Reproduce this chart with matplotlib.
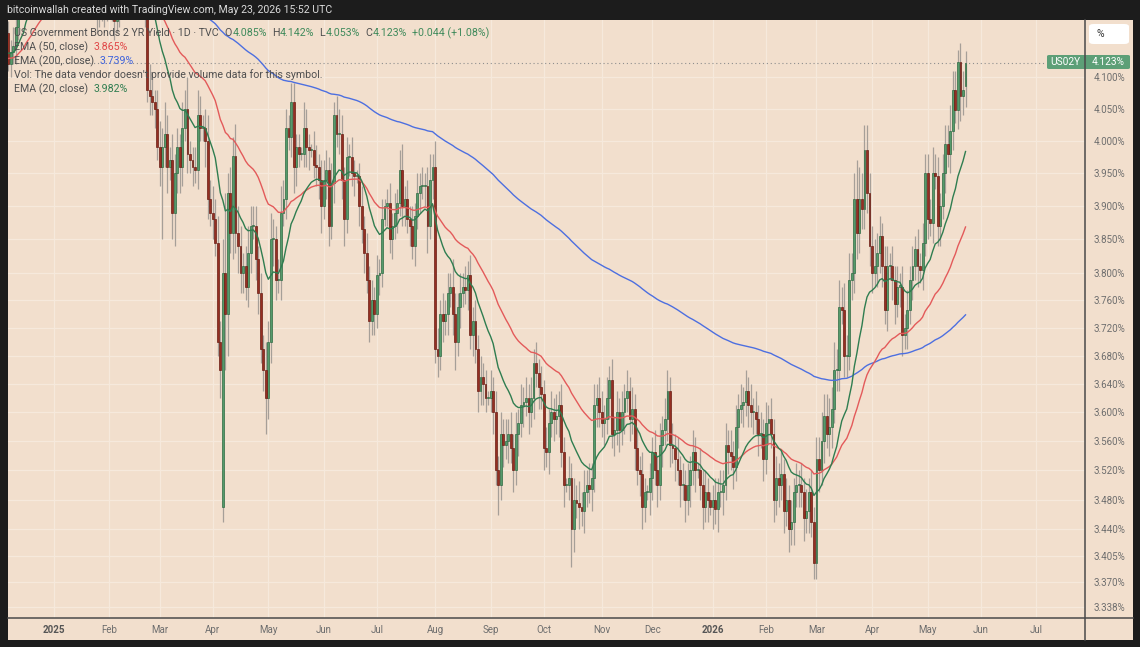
import matplotlib
matplotlib.use("Agg")
import matplotlib.pyplot as plt
from matplotlib.lines import Line2D
from matplotlib.patches import FancyBboxPatch, Rectangle
from matplotlib.ticker import FixedFormatter, FixedLocator, NullLocator
import numpy as np
import pandas as pd

plt.rcParams["font.family"] = ["Roboto", "DejaVu Sans"]

# ---- data: US02Y daily closes, business days from START
START = "2024-12-09"
FIRST_OPEN = 4.17

close_dec24 = [4.12, 4.14, 4.15, 4.18, 4.24, 4.25, 4.25, 4.35, 4.31, 4.31, 4.35, 4.34, 4.34, 4.33, 4.32, 4.24, 4.25]
close_jan25 = [4.25, 4.28, 4.28, 4.28, 4.30, 4.28, 4.28, 4.38, 4.40, 4.37, 4.27, 4.24, 4.28, 4.28, 4.29, 4.30, 4.30, 4.27, 4.20, 4.21, 4.22, 4.21, 4.22]
close_feb25 = [4.25, 4.22, 4.19, 4.21, 4.29, 4.28, 4.29, 4.36, 4.31, 4.26, 4.26, 4.29, 4.27, 4.27, 4.21, 4.08, 4.07, 4.06, 4.05, 3.99]
close_mar25 = [3.96, 3.99, 4.01, 3.96, 3.97, 3.89, 3.95, 3.99, 3.96, 4.02, 4.05, 3.98, 3.97, 3.96, 3.955, 4.04, 4.02, 4.02, 4.00, 3.91, 3.89]
close_apr25 = [3.88, 3.845, 3.70, 3.66, 3.80, 3.74, 3.92, 3.86, 3.976, 3.86, 3.84, 3.80, 3.81, 3.78, 3.83, 3.87, 3.87, 3.82, 3.77, 3.69, 3.66, 3.62]
close_may25 = [3.70, 3.85, 3.85, 3.79, 3.79, 3.89, 3.91, 4.02, 4.005, 4.06, 3.96, 3.99, 3.98, 3.98, 4.02, 3.99, 3.985, 3.985, 3.963, 3.96, 3.94, 3.90]
close_jun25 = [3.94, 3.955, 3.87, 3.935, 4.04, 4.01, 4.01, 3.94, 3.88, 3.975, 3.975, 3.95, 3.945, 3.945, 3.90, 3.865, 3.83, 3.79, 3.73, 3.76, 3.74]
close_jul25 = [3.797, 3.80, 3.88, 3.90, 3.905, 3.85, 3.87, 3.89, 3.905, 3.955, 3.90, 3.91, 3.88, 3.87, 3.84, 3.885, 3.92, 3.93, 3.93, 3.93, 3.87, 3.94, 3.96]
close_aug25 = [3.69, 3.68, 3.74, 3.73, 3.74, 3.77, 3.78, 3.74, 3.70, 3.75, 3.77, 3.78, 3.775, 3.797, 3.71, 3.73, 3.69, 3.63, 3.65, 3.64, 3.62]
close_sep25 = [3.62, 3.63, 3.60, 3.52, 3.50, 3.57, 3.555, 3.56, 3.57, 3.55, 3.52, 3.57, 3.585, 3.61, 3.615, 3.62, 3.60, 3.62, 3.67, 3.655, 3.635, 3.625]
close_oct25 = [3.55, 3.545, 3.585, 3.60, 3.59, 3.595, 3.61, 3.545, 3.50, 3.50, 3.51, 3.44, 3.48, 3.475, 3.47, 3.465, 3.49, 3.50, 3.495, 3.51, 3.61, 3.62, 3.60]
close_nov25 = [3.585, 3.59, 3.62, 3.645, 3.57, 3.575, 3.60, 3.575, 3.60, 3.62, 3.63, 3.59, 3.605, 3.55, 3.52, 3.515, 3.47, 3.49, 3.49, 3.51]
close_dec25 = [3.545, 3.52, 3.50, 3.555, 3.575, 3.59, 3.63, 3.555, 3.55, 3.535, 3.52, 3.50, 3.50, 3.48, 3.50, 3.52, 3.545, 3.52, 3.52, 3.50, 3.47, 3.49, 3.48]
close_jan26 = [3.47, 3.48, 3.467, 3.49, 3.49, 3.50, 3.555, 3.545, 3.54, 3.525, 3.58, 3.605, 3.61, 3.615, 3.63, 3.61, 3.60, 3.60, 3.59, 3.57, 3.57, 3.535]
close_feb26 = [3.585, 3.59, 3.57, 3.48, 3.51, 3.50, 3.515, 3.465, 3.48, 3.44, 3.45, 3.49, 3.50, 3.50, 3.49, 3.455, 3.465, 3.49, 3.45, 3.395]
close_mar26 = [3.535, 3.52, 3.56, 3.595, 3.57, 3.58, 3.605, 3.66, 3.66, 3.75, 3.745, 3.68, 3.68, 3.79, 3.80, 3.91, 3.86, 3.91, 3.895, 3.985, 3.92, 3.84]
close_apr26 = [3.80, 3.81, 3.83, 3.855, 3.81, 3.745, 3.81, 3.81, 3.79, 3.755, 3.78, 3.78, 3.71, 3.72, 3.745, 3.79, 3.81, 3.835, 3.81, 3.805, 3.845, 3.95]
close_may26 = [3.88, 3.875, 3.95, 3.945, 3.87, 3.90, 3.95, 3.995, 3.98, 4.015, 4.08, 4.048, 4.124, 4.07, 4.079, 4.123]

# wick lengths beyond the body, in basis points
up_dec24 = [2, 2, 3, 2, 3, 2, 4, 3, 2, 3, 2, 1, 1, 2, 3, 2, 3]
dn_dec24 = [1, 2, 2, 3, 2, 3, 2, 2, 4, 2, 3, 1, 1, 2, 2, 3, 2]
up_jan25 = [1, 3, 2, 3, 4, 2, 1, 3, 2, 3, 4, 2, 3, 2, 2, 3, 2, 2, 3, 2, 3, 2, 3]
dn_jan25 = [1, 2, 3, 2, 3, 2, 1, 2, 3, 2, 3, 4, 2, 3, 2, 2, 3, 2, 3, 2, 2, 3, 2]
up_feb25 = [3, 2, 3, 4, 2, 3, 2, 3, 4, 2, 1, 3, 2, 2, 3, 3, 4, 3, 2, 3]
dn_feb25 = [2, 3, 3, 2, 3, 2, 3, 2, 3, 3, 1, 2, 3, 2, 3, 2, 3, 2, 3, 2]
up_mar25 = [4, 3, 5, 3, 2, 4, 3, 3, 2, 4, 3, 5, 2, 2, 3, 4, 3, 2, 3, 4, 3]
dn_mar25 = [3, 11, 3, 4, 2, 4, 5, 3, 4, 3, 2, 3, 2, 3, 2, 3, 2, 2, 4, 3, 2]
up_apr25 = [4, 3, 4, 3, 5, 12, 3, 4, 3, 5, 4, 3, 2, 3, 4, 3, 3, 3, 2, 3, 2, 4]
dn_apr25 = [3, 2, 2, 4, 2, 8, 6, 3, 4, 3, 4, 3, 3, 2, 3, 3, 2, 3, 3, 2, 3, 5]
up_may25 = [3, 4, 3, 2, 3, 4, 3, 3, 2, 3, 3, 2, 2, 1, 4, 3, 2, 1, 3, 3, 2, 3]
dn_may25 = [3, 3, 4, 3, 2, 3, 2, 3, 2, 3, 4, 3, 2, 1, 2, 3, 3, 1, 2, 3, 3, 4]
up_jun25 = [3, 3, 2, 3, 2, 3, 4, 3, 2, 3, 2, 3, 2, 1, 2, 3, 2, 3, 2, 3, 2]
dn_jun25 = [2, 3, 3, 2, 3, 2, 3, 3, 4, 2, 3, 2, 3, 1, 3, 2, 3, 2, 3, 2, 3]
up_jul25 = [3, 2, 3, 1, 2, 3, 2, 3, 2, 3, 4, 2, 3, 2, 3, 2, 3, 2, 3, 2, 3, 4, 2]
dn_jul25 = [2, 3, 2, 1, 3, 2, 3, 2, 3, 2, 3, 3, 2, 3, 2, 3, 2, 3, 2, 3, 4, 2, 3]
up_aug25 = [4, 3, 2, 3, 2, 3, 2, 4, 3, 2, 3, 2, 3, 2, 3, 2, 3, 2, 3, 2, 2]
dn_aug25 = [2, 3, 2, 3, 2, 3, 2, 3, 4, 2, 3, 2, 2, 3, 2, 3, 2, 3, 2, 3, 2]
up_sep25 = [1, 3, 2, 3, 2, 3, 2, 3, 2, 3, 2, 3, 2, 3, 2, 3, 2, 3, 2, 3, 2, 3]
dn_sep25 = [1, 2, 3, 2, 4, 2, 3, 2, 3, 2, 3, 2, 3, 2, 3, 2, 3, 2, 3, 2, 3, 2]
up_oct25 = [2, 3, 2, 3, 2, 3, 2, 3, 2, 1, 3, 2, 3, 2, 3, 2, 3, 2, 3, 2, 3, 2, 3]
dn_oct25 = [3, 2, 3, 2, 3, 2, 3, 2, 3, 1, 2, 5, 3, 2, 3, 2, 3, 2, 2, 3, 2, 3, 2]
up_nov25 = [3, 2, 3, 2, 3, 2, 3, 2, 3, 2, 3, 2, 3, 2, 3, 2, 3, 2, 1, 2]
dn_nov25 = [2, 3, 2, 3, 2, 3, 2, 3, 2, 3, 2, 3, 2, 3, 2, 3, 3, 2, 1, 3]
up_dec25 = [2, 3, 2, 3, 2, 3, 3, 2, 3, 2, 3, 2, 3, 2, 3, 2, 3, 2, 1, 3, 2, 3, 2]
dn_dec25 = [3, 2, 3, 2, 3, 2, 3, 3, 2, 3, 2, 3, 2, 3, 2, 3, 2, 3, 1, 2, 3, 2, 3]
up_jan26 = [1, 2, 3, 2, 3, 2, 3, 2, 3, 2, 3, 2, 3, 2, 3, 2, 3, 2, 3, 2, 3, 2]
dn_jan26 = [1, 3, 2, 3, 2, 3, 2, 3, 2, 3, 2, 3, 2, 3, 2, 3, 2, 3, 2, 3, 2, 3]
up_feb26 = [3, 2, 3, 2, 3, 2, 3, 2, 3, 2, 3, 2, 3, 2, 3, 2, 3, 2, 3, 2]
dn_feb26 = [2, 3, 2, 3, 2, 3, 2, 3, 2, 3, 2, 3, 2, 3, 2, 3, 2, 3, 2, 2]
up_mar26 = [3, 3, 4, 3, 3, 4, 3, 4, 3, 4, 3, 4, 3, 4, 3, 4, 6, 5, 4, 4, 4, 3]
dn_mar26 = [2, 3, 2, 3, 2, 3, 3, 2, 3, 3, 2, 3, 3, 2, 3, 3, 4, 3, 3, 3, 3, 3]
up_apr26 = [3, 4, 3, 3, 2, 3, 3, 2, 3, 2, 3, 2, 3, 2, 3, 2, 3, 2, 3, 2, 3, 3]
dn_apr26 = [3, 2, 3, 3, 3, 2, 3, 2, 3, 3, 2, 3, 3, 2, 3, 2, 3, 2, 3, 2, 3, 2]
up_may26 = [3, 3, 4, 3, 3, 2, 3, 3, 3, 4, 3, 3, 2, 3, 3, 1.9]
dn_may26 = [3, 2, 3, 2, 3, 3, 2, 3, 2, 3, 3, 2, 3, 4, 3, 3.2]

# opens that gap away from the previous close
open_gaps = {"2025-04-07": 3.47, "2026-05-22": 4.085}

# EMA starting values at the first bar (history before the window)
ema_seed = {20: 4.14, 50: 4.13, 200: 4.24}

y_ticks = [4.100, 4.050, 4.000, 3.950, 3.900, 3.850, 3.800, 3.760, 3.720, 3.680,
           3.640, 3.600, 3.560, 3.520, 3.480, 3.440, 3.405, 3.370, 3.338]
x_tick_dates = ["2025-01-02", "2025-02-03", "2025-03-03", "2025-04-01", "2025-05-01",
                "2025-06-02", "2025-07-01", "2025-08-01", "2025-09-02", "2025-10-01",
                "2025-11-03", "2025-12-01", "2026-01-02", "2026-02-02", "2026-03-02",
                "2026-04-01", "2026-05-01", "2026-06-01", "2026-07-01"]
x_tick_labels = ["2025", "Feb", "Mar", "Apr", "May", "Jun", "Jul", "Aug", "Sep", "Oct",
                 "Nov", "Dec", "2026", "Feb", "Mar", "Apr", "May", "Jun", "Jul"]

# ---- assemble
closes = (close_dec24 + close_jan25 + close_feb25 + close_mar25 + close_apr25 + close_may25
          + close_jun25 + close_jul25 + close_aug25 + close_sep25 + close_oct25 + close_nov25
          + close_dec25 + close_jan26 + close_feb26 + close_mar26 + close_apr26 + close_may26)
wick_up = (up_dec24 + up_jan25 + up_feb25 + up_mar25 + up_apr25 + up_may25 + up_jun25
           + up_jul25 + up_aug25 + up_sep25 + up_oct25 + up_nov25 + up_dec25 + up_jan26
           + up_feb26 + up_mar26 + up_apr26 + up_may26)
wick_dn = (dn_dec24 + dn_jan25 + dn_feb25 + dn_mar25 + dn_apr25 + dn_may25 + dn_jun25
           + dn_jul25 + dn_aug25 + dn_sep25 + dn_oct25 + dn_nov25 + dn_dec25 + dn_jan26
           + dn_feb26 + dn_mar26 + dn_apr26 + dn_may26)

all_days = pd.bdate_range(START, "2026-08-31")
dates = all_days[:len(closes)]
c = np.array(closes)
o = np.r_[FIRST_OPEN, c[:-1]]
for d, v in open_gaps.items():
    o[dates.get_loc(pd.Timestamp(d))] = v
hi = np.maximum(o, c) + np.array(wick_up) / 100
lo = np.minimum(o, c) - np.array(wick_dn) / 100
x = np.arange(len(c))
rise = c >= o


def ema(values, span, seed):
    s = pd.Series([seed] + list(values))
    return s.ewm(span=span, adjust=False).mean().to_numpy()[1:]


ema20 = ema(c, 20, ema_seed[20])
ema50 = ema(c, 50, ema_seed[50])
ema200 = ema(c, 200, ema_seed[200])

# ---- style
BG = "#f2dfcd"
DARK = "#1c1c1c"
GRID = "#f6e9dc"
GREEN, GREEN_EDGE = "#559a6b", "#2f6b43"
RED, RED_EDGE = "#952f22", "#6a1d14"
WICK = "#a69f98"
TXT = "#4f4f4f"
AXTXT = "#6e6e6e"

W, H = 1140, 647


def fx(px):
    return px / W


def fy(py):
    return 1 - py / H


fig = plt.figure(figsize=(W / 100, H / 100), dpi=100, facecolor=DARK)
fig.patches.append(Rectangle((fx(7.5), fy(640)), fx(1133) - fx(7.5), fy(20) - fy(640),
                             transform=fig.transFigure, facecolor=BG, edgecolor="none", zorder=-5))

ax = fig.add_axes([fx(7.5), fy(618), fx(1085) - fx(7.5), fy(20) - fy(618)])
ax.set_facecolor(BG)
for sp in ax.spines.values():
    sp.set_visible(False)

ax.set_yscale("log")
ax.set_ylim(3.3239, 4.1917)
ax.set_xlim(-0.25, 426.3)

ax.yaxis.set_major_locator(FixedLocator(y_ticks))
ax.yaxis.set_major_formatter(FixedFormatter([f"{v:.3f}%" for v in y_ticks]))
ax.yaxis.set_minor_locator(NullLocator())
ax.yaxis.tick_right()
ax.tick_params(axis="y", length=0, pad=6, labelsize=7, labelcolor=AXTXT)

xt = [all_days.get_loc(pd.Timestamp(d)) for d in x_tick_dates]
ax.set_xticks(xt)
ax.set_xticklabels(x_tick_labels)
ax.tick_params(axis="x", length=0, pad=5, labelsize=7, labelcolor=AXTXT)
for lab in ax.get_xticklabels():
    if lab.get_text().isdigit():
        lab.set_fontweight("bold")
        lab.set_color("#555555")

ax.grid(True, color=GRID, lw=0.9, zorder=0)
ax.set_axisbelow(True)

# candles
ax.vlines(x, lo, hi, color=WICK, lw=0.9, zorder=2)
body = np.maximum(np.abs(c - o), 0.0015)
ax.bar(x[rise], body[rise], bottom=np.minimum(o, c)[rise], width=0.74,
       color=GREEN, edgecolor=GREEN_EDGE, linewidth=0.5, zorder=3)
ax.bar(x[~rise], body[~rise], bottom=np.minimum(o, c)[~rise], width=0.74,
       color=RED, edgecolor=RED_EDGE, linewidth=0.5, zorder=3)

# moving averages
ax.plot(x, ema200, color="#4d6fe0", lw=1.0, zorder=4)
ax.plot(x, ema50, color="#e35a5a", lw=1.0, zorder=4)
ax.plot(x, ema20, color="#2f7d50", lw=1.0, zorder=4)

# last price line
ax.axhline(c[-1], xmax=(1046 - 7.5) / (1085 - 7.5), color="#8e8e8e", lw=0.8,
           ls=(0, (1, 2.5)), zorder=1)

# separators
fig.add_artist(Line2D([fx(1085), fx(1085)], [fy(20), fy(640)], color="#4a4a4a", lw=1.1, zorder=6))
fig.add_artist(Line2D([fx(7.5), fx(1133)], [fy(617.5), fy(617.5)], color="#4a4a4a", lw=1.1, zorder=6))

# header bar
fig.text(fx(7), fy(10), "bitcoinwallah created with TradingView.com, May 23, 2026 15:52 UTC",
         color="#dadada", fontsize=7.6, va="center", ha="left")

# legend rows
renderer = fig.canvas.get_renderer()


def text_row(x0, y0, parts, size=7.7):
    xpos = x0
    for s, col, gap in parts:
        t = fig.text(fx(xpos), fy(y0), s, color=col, fontsize=size, va="center", ha="left", zorder=7)
        xpos += t.get_window_extent(renderer=renderer).width + gap


VAL_G = "#3f8a5b"
text_row(14, 33, [("US Government Bonds 2 YR Yield · 1D · TVC", TXT, 6),
                  ("O", TXT, 0.5), ("4.085%", VAL_G, 5),
                  ("H", TXT, 0.5), ("4.142%", VAL_G, 5),
                  ("L", TXT, 0.5), ("4.053%", VAL_G, 5),
                  ("C", TXT, 0.5), ("4.123%", VAL_G, 5),
                  ("+0.044 (+1.08%)", VAL_G, 0)])
text_row(14, 47, [("EMA (50, close)", TXT, 5), ("3.865%", "#e04848", 0)])
text_row(14, 61, [("EMA (200, close)", TXT, 5), ("3.739%", "#3f63dc", 0)])
text_row(14, 75, [("Vol: The data vendor doesn't provide volume data for this symbol.", TXT, 0)])
text_row(14, 89, [("EMA (20, close)", TXT, 5), ("3.982%", "#2f7d50", 0)])

# price scale unit box
fig.patches.append(FancyBboxPatch((fx(1089), fy(44)), fx(1129) - fx(1089), fy(24) - fy(44),
                                  boxstyle="round,pad=0,rounding_size=0.004",
                                  transform=fig.transFigure, facecolor="white",
                                  edgecolor="none", zorder=5))
fig.text(fx(1100), fy(34), "%", color="#333333", fontsize=7.5, va="center", ha="center", zorder=7)

# last price label
fig.patches.append(FancyBboxPatch((fx(1047), fy(69)), fx(1130) - fx(1047), fy(55) - fy(69),
                                  boxstyle="round,pad=0,rounding_size=0.002",
                                  transform=fig.transFigure, facecolor="#5d9f77",
                                  edgecolor="none", zorder=5))
fig.text(fx(1065), fy(62), "US02Y", color="white", fontsize=7.3, va="center", ha="center", zorder=7)
fig.text(fx(1108), fy(62), "4.123%", color="white", fontsize=7.3, va="center", ha="center", zorder=7)

fig.savefig("out.png", dpi=100, facecolor=DARK)
